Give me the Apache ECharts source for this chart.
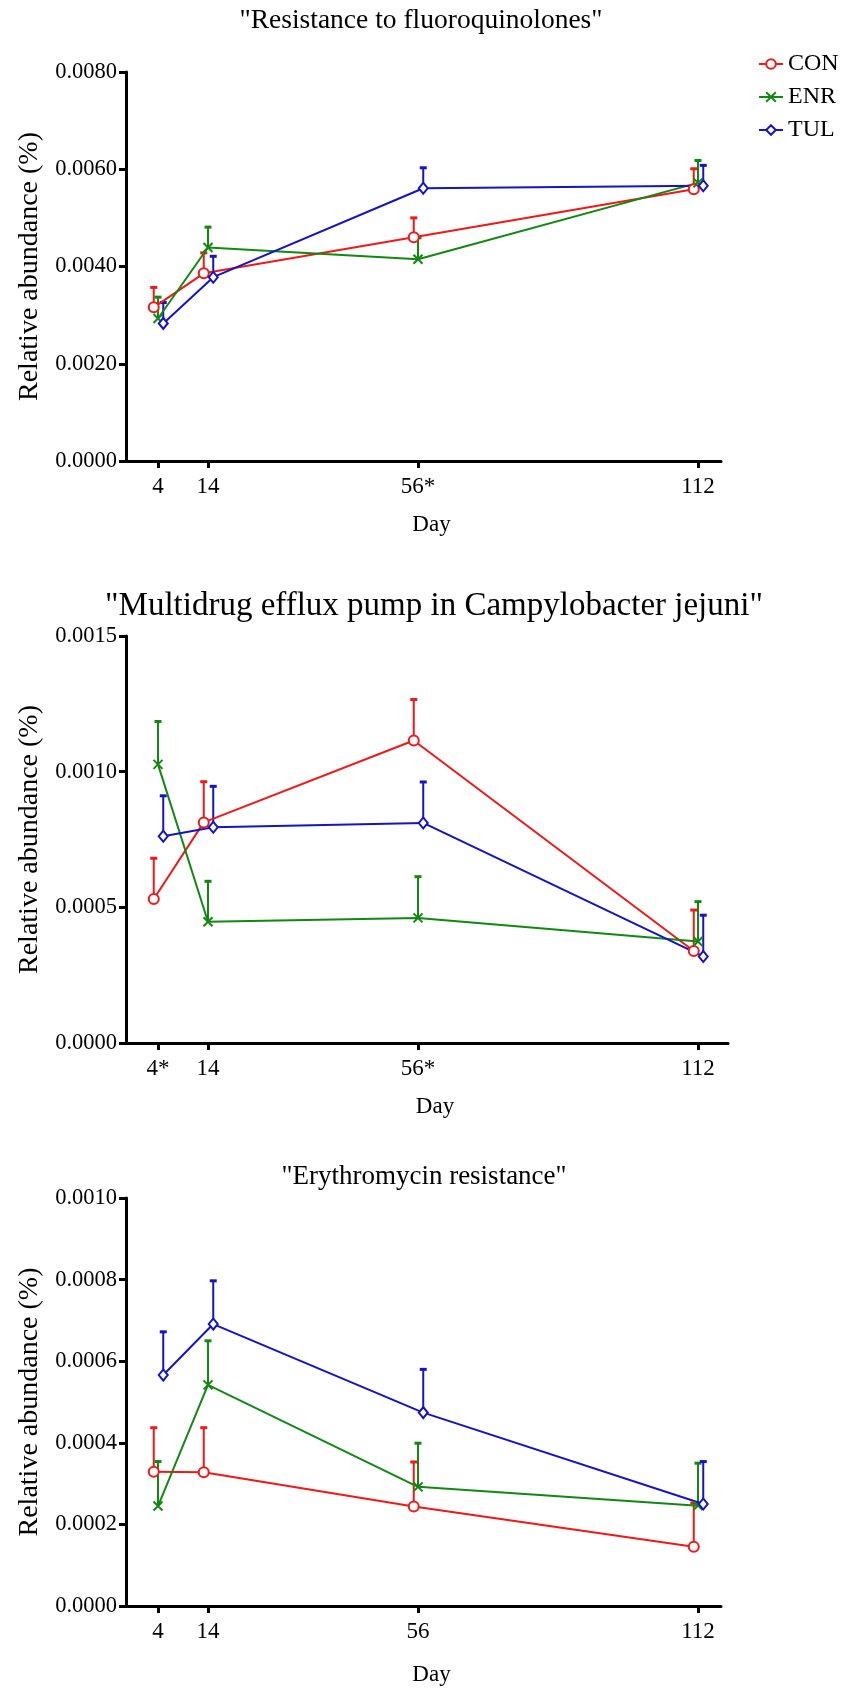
<!DOCTYPE html>
<html><head><meta charset="utf-8">
<script src="https://cdn.jsdelivr.net/npm/echarts@6/dist/echarts.min.js"></script>
<style>html,body{margin:0;padding:0;background:#fff}#c{width:841px;height:1688px}</style>
</head><body><div id="c"></div>
<script>
// ---------- data ----------
const groups = ['CON', 'ENR', 'TUL'];
const days = [4, 14, 56, 112];
const xLabels1 = ['4', '14', '56*', '112'];
const xLabels2 = ['4*', '14', '56*', '112'];
const xLabels3 = ['4', '14', '56', '112'];
const chartTitles = ['"Resistance to fluoroquinolones"', '"Multidrug efflux pump in Campylobacter jejuni"', '"Erythromycin resistance"'];
const xName = 'Day';
const yName = 'Relative abundance (%)';

// Chart 1: Resistance to fluoroquinolones (mean, upper error)
const fqCON = [0.00316, 0.00386, 0.00460, 0.00559];
const fqCONerr = [0.00041, 0.00042, 0.00040, 0.00042];
const fqENR = [0.00293, 0.00439, 0.00415, 0.00572];
const fqENRerr = [0.00044, 0.00042, 0.00044, 0.00046];
const fqTUL = [0.00283, 0.00378, 0.00561, 0.00566];
const fqTULerr = [0.00043, 0.00043, 0.00042, 0.00042];

// Chart 2: Multidrug efflux pump in Campylobacter jejuni
const mdCON = [0.000531, 0.000813, 0.001115, 0.000339];
const mdCONerr = [0.000150, 0.000150, 0.000151, 0.000151];
const mdENR = [0.001027, 0.000447, 0.000461, 0.000374];
const mdENRerr = [0.000158, 0.000149, 0.000152, 0.000147];
const mdTUL = [0.000762, 0.000795, 0.000811, 0.000319];
const mdTULerr = [0.000149, 0.000151, 0.000151, 0.000152];

// Chart 3: Erythromycin resistance
const erCON = [0.000329, 0.000328, 0.000244, 0.000145];
const erCONerr = [0.000108, 0.000109, 0.000109, 0.000107];
const erENR = [0.000245, 0.000542, 0.000292, 0.000246];
const erENRerr = [0.000109, 0.000108, 0.000107, 0.000104];
const erTUL = [0.000566, 0.000691, 0.000474, 0.000250];
const erTULerr = [0.000106, 0.000106, 0.000106, 0.000104];

const yMax = [0.008, 0.0015, 0.001];
const yStep = [0.002, 0.0005, 0.0002];

// ---------- styling ----------
const FONT = '"Liberation Serif", "Times New Roman", serif';
const colors = {CON: '#f01818', ENR: '#128812', TUL: '#1414c4'};
const symbols = {CON: 'emptyCircle', ENR: 'path://M0,0L10,10M10,0L0,10', TUL: 'emptyDiamond'};
const symbolSizes = {CON: 10, ENR: 9, TUL: [9, 11]};
const offsets = {CON: -0.85, ENR: 0, TUL: 1.05};
const grids = [
  {left: 126, top: 72, width: 595, height: 389},
  {left: 126, top: 636, width: 602, height: 407},
  {left: 126, top: 1198, width: 595, height: 408}
];
const xRange = [[-2.4, 116.6], [-2.4, 118], [-2.4, 116.6]];
const xNameGap = [52, 52, 57];
const titleStyle = [[421, 21, 27.5], [434, 606, 33], [424, 1177, 27]];
const xLabelSets = [xLabels1, xLabels2, xLabels3];
const dataSets = [
  {CON: [fqCON, fqCONerr], ENR: [fqENR, fqENRerr], TUL: [fqTUL, fqTULerr]},
  {CON: [mdCON, mdCONerr], ENR: [mdENR, mdENRerr], TUL: [mdTUL, mdTULerr]},
  {CON: [erCON, erCONerr], ENR: [erENR, erENRerr], TUL: [erTUL, erTULerr]}
];

function errRender(params, api) {
  const x = api.value(0), y = api.value(1), top = api.value(2);
  const p0 = api.coord([x, y]);
  const p1 = api.coord([x, top]);
  const c = api.visual('color');
  return {
    type: 'group',
    children: [
      {type: 'line', shape: {x1: p0[0], y1: p0[1], x2: p1[0], y2: p1[1]}, style: {stroke: c, lineWidth: 2}},
      {type: 'line', shape: {x1: p1[0] - 3.5, y1: p1[1], x2: p1[0] + 3.5, y2: p1[1]}, style: {stroke: c, lineWidth: 3}}
    ]
  };
}

const xAxes = [], yAxes = [], series = [], graphics = [];
grids.forEach((g, k) => {
  const labels = xLabelSets[k];
  xAxes.push({
    type: 'value', gridIndex: k, min: xRange[k][0], max: xRange[k][1],
    name: xName, nameLocation: 'middle', nameGap: xNameGap[k],
    nameTextStyle: {fontFamily: FONT, fontSize: 23, color: '#000', padding: [0, 0, 0, 16]},
    axisLine: {show: true, onZero: false, lineStyle: {color: '#000', width: 3}},
    axisTick: {show: true, length: 7, lineStyle: {color: '#000', width: 3}, customValues: days},
    axisLabel: {
      customValues: days, margin: 14, fontFamily: FONT, fontSize: 23, color: '#000',
      formatter: v => labels[days.indexOf(v)]
    },
    splitLine: {show: false}
  });
  yAxes.push({
    type: 'value', gridIndex: k, min: 0, max: yMax[k], interval: yStep[k],
    name: yName, nameLocation: 'middle', nameGap: 82,
    nameTextStyle: {fontFamily: FONT, fontSize: 28, color: '#000'},
    axisLine: {show: true, onZero: false, lineStyle: {color: '#000', width: 3}},
    axisTick: {show: true, length: 7, lineStyle: {color: '#000', width: 3}},
    axisLabel: {margin: 9, fontFamily: FONT, fontSize: 22.5, color: '#000', formatter: v => v.toFixed(4)},
    splitLine: {show: false}
  });
  graphics.push({
    type: 'text', x: titleStyle[k][0], y: titleStyle[k][1],
    style: {text: chartTitles[k], fontFamily: FONT, fontSize: titleStyle[k][2], fill: '#000', align: 'center', verticalAlign: 'middle'}
  });
  groups.forEach(gname => {
    const [vals, errs] = dataSets[k][gname];
    const xs = days.map(d => d + offsets[gname]);
    series.push({
      name: gname + ' error', type: 'custom', xAxisIndex: k, yAxisIndex: k,
      itemStyle: {color: colors[gname]}, renderItem: errRender, z: 1,
      data: xs.map((x, i) => [x, vals[i], vals[i] + errs[i]])
    });
    series.push({
      name: gname, type: 'line', xAxisIndex: k, yAxisIndex: k, z: 3,
      symbol: symbols[gname], symbolSize: symbolSizes[gname], showSymbol: true,
      lineStyle: {color: colors[gname], width: 2},
      itemStyle: {color: colors[gname], borderColor: colors[gname], borderWidth: 2},
      data: xs.map((x, i) => [x, vals[i]])
    });
  });
});

const chart = echarts.init(document.getElementById('c'), null, {renderer: 'canvas'});
chart.setOption({
  animation: false,
  backgroundColor: '#fff',
  grid: grids,
  xAxis: xAxes,
  yAxis: yAxes,
  legend: {
    data: groups, orient: 'vertical', left: 753, top: 47,
    itemWidth: 24, itemHeight: 12, itemGap: 9,
    textStyle: {fontFamily: FONT, fontSize: 24, color: '#000'}
  },
  graphic: graphics,
  series: series
});
</script></body></html>
